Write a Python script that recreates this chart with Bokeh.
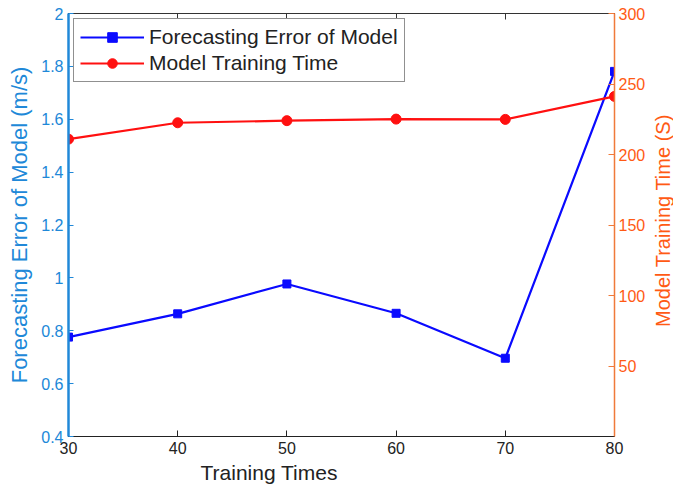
from bokeh.plotting import figure
from bokeh.models import Range1d, LinearAxis, FixedTicker, CustomJSTickFormatter, Legend, LegendItem, Title, Div
from bokeh.layouts import row
from bokeh.embed import file_html
from bokeh.resources import INLINE

training_times = [30, 40, 50, 60, 70, 80]
forecast_error = [0.776, 0.864, 0.977, 0.866, 0.696, 1.781]
training_time_s = [210.9, 222.5, 224.0, 225.1, 224.9, 241.2]

x_ticks = [30, 40, 50, 60, 70, 80]
left_ticks = [0.4, 0.6, 0.8, 1.0, 1.2, 1.4, 1.6, 1.8, 2.0]
right_ticks = [50, 100, 150, 200, 250, 300]

BLUE_AX = "#2088d8"
ORANGE_AX = "#f07a3a"
ORANGE_TXT = "#ff5a14"
FONT = "Liberation Sans"

p = figure(width=653, height=486, output_backend="svg", toolbar_location=None,
           x_range=Range1d(30, 80), y_range=Range1d(0.4, 2.0),
           min_border_left=68, min_border_right=39, min_border_top=13, min_border_bottom=50)
p.extra_y_ranges = {"time": Range1d(0, 300)}
p.grid.visible = False
p.outline_line_color = "#333333"
p.background_fill_color = "white"

# bottom axis
xa = p.xaxis[0]
xa.ticker = FixedTicker(ticks=x_ticks)
xa.major_label_text_font = FONT
xa.major_label_text_font_size = "16px"
xa.major_label_text_color = "#222222"
xa.major_label_standoff = 5
xa.major_tick_in = 6
xa.major_tick_out = 0
xa.minor_tick_line_color = None
xa.axis_line_color = "#222222"
xa.major_tick_line_color = "#222222"

# x axis title (offset to the left, as in the reference)
xtitle = Title(text="Training Times", align="left", offset=132, standoff=4,
               text_font=FONT, text_font_size="21px", text_font_style="normal",
               text_color="#222222")
p.add_layout(xtitle, "below")

# left axis
ya = p.yaxis[0]
ya.ticker = FixedTicker(ticks=left_ticks)
ya.formatter = CustomJSTickFormatter(code="return tick.toFixed(1).replace(/\\.0$/, '');")
ya.axis_label = "Forecasting Error of Model (m/s)"
ya.axis_label_text_font = FONT
ya.axis_label_text_font_size = "22px"
ya.axis_label_text_font_style = "normal"
ya.axis_label_text_color = BLUE_AX
ya.axis_label_standoff = 6
ya.major_label_text_font = FONT
ya.major_label_text_font_size = "16px"
ya.major_label_text_color = BLUE_AX
ya.major_label_standoff = 5
ya.major_tick_in = 5
ya.major_tick_out = 0
ya.minor_tick_line_color = None
ya.axis_line_color = BLUE_AX
ya.axis_line_width = 2.5
ya.major_tick_line_color = BLUE_AX

# right axis (its title is drawn beside the figure so it reads bottom-to-top)
ra = LinearAxis(y_range_name="time", ticker=FixedTicker(ticks=right_ticks))
ra.major_label_text_font = FONT
ra.major_label_text_font_size = "16px"
ra.major_label_text_color = ORANGE_TXT
ra.major_label_standoff = 4
ra.major_tick_in = 6
ra.major_tick_out = 0
ra.minor_tick_line_color = None
ra.axis_line_color = ORANGE_AX
ra.axis_line_width = 1.5
ra.major_tick_line_color = ORANGE_AX
p.add_layout(ra, "right")

# top axis (ticks only)
ta = LinearAxis(ticker=FixedTicker(ticks=x_ticks))
ta.formatter = CustomJSTickFormatter(code="return '';")
ta.major_label_text_font_size = "1px"
ta.major_label_standoff = 0
ta.major_tick_in = 6
ta.major_tick_out = 0
ta.minor_tick_line_color = None
ta.axis_line_color = "#333333"
ta.major_tick_line_color = "#333333"
p.add_layout(ta, "above")

l1 = p.line(training_times, forecast_error, line_color="#0a0aff", line_width=2.2)
m1 = p.scatter(training_times, forecast_error, marker="square", size=8,
               fill_color="#0a0aff", line_color="#0a0aff")
l2 = p.line(training_times, training_time_s, line_color="#ff1010", line_width=2.2, y_range_name="time")
m2 = p.scatter(training_times, training_time_s, marker="circle", size=10,
               fill_color="#ff1010", line_color="#ff1010", y_range_name="time")

legend = Legend(items=[
    LegendItem(label="Forecasting Error of Model", renderers=[l1, m1]),
    LegendItem(label="Model Training Time", renderers=[l2, m2]),
], location="top_left")
legend.label_text_font = FONT
legend.label_text_font_size = "21px"
legend.label_text_color = "#222222"
legend.glyph_width = 64
legend.glyph_height = 24
legend.label_height = 24
legend.spacing = 2
legend.padding = 6
legend.margin = 5
legend.label_standoff = 5
legend.border_line_color = "#222222"
legend.border_line_width = 1
legend.background_fill_alpha = 1
p.add_layout(legend)

right_title = Div(text="Model Training Time (S)", width=20, height=442, margin=0,
                  styles={"color": ORANGE_TXT, "font-family": FONT, "font-size": "20px",
                          "writing-mode": "vertical-rl", "transform": "rotate(180deg)",
                          "text-align": "center", "line-height": "20px",
                          "white-space": "nowrap", "overflow": "visible"})

layout = row(p, right_title, spacing=0)
open("out.html", "w").write(file_html(layout, INLINE))
